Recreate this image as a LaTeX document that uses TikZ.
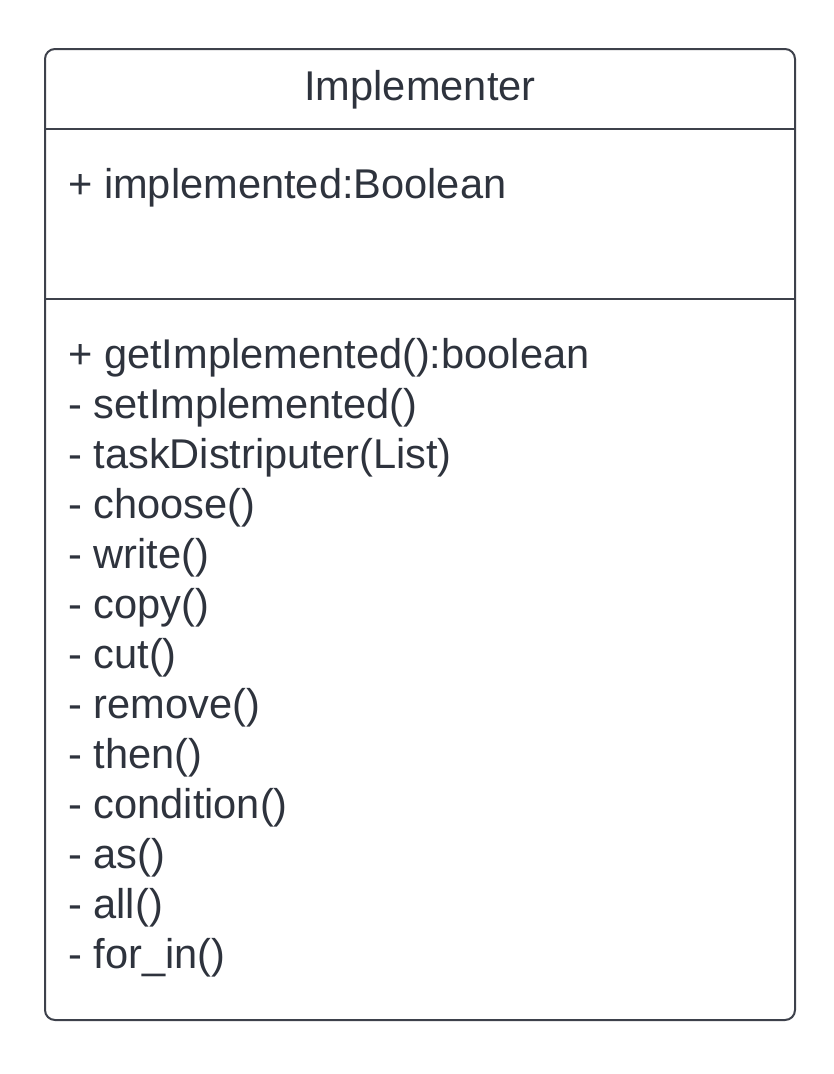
\documentclass[tikz,border=0pt]{standalone}
\usepackage{fontspec}
\setmainfont{Liberation Sans}
\definecolor{umlline}{HTML}{3D414B}
\definecolor{umltext}{HTML}{2E333D}
\begin{document}
\begin{tikzpicture}[x=1pt,y=-1pt,
  classbox/.style={draw=umlline,line width=2pt,rounded corners=10pt},
  divider/.style={draw=umlline,line width=1.6pt},
  member/.style={anchor=base west,inner sep=0pt,text=umltext,font=\fontsize{41.6}{41.6}\selectfont},
  title/.style={anchor=base,inner sep=0pt,text=umltext,font=\fontsize{41.6}{41.6}\selectfont}]
  \useasboundingbox (0,0) rectangle (833,1074);
  % class frame and compartments
  \draw[classbox] (45,49) rectangle (795,1020);
  \coordinate (d1l) at (45,129);
  \coordinate (d1r) at (795,129);
  \coordinate (d2l) at (45,299);
  \coordinate (d2r) at (795,299);
  \draw[divider] (d1l) -- (d1r);
  \draw[divider] (d2l) -- (d2r);
  % class name
  \node[title] (name) at (420,100) {Implementer};
  % attributes
  \node[member] (attr) at (68,198) {+ implemented:Boolean};
  % operations, one line every 50pt
  \foreach \txt [count=\i] in {%
      + getImplemented():boolean,
      - setImplemented(),
      - taskDistriputer(List),
      - choose(),
      - write(),
      - copy(),
      - cut(),
      - remove(),
      - then(),
      - condition(),
      - as(),
      - all(),
      - for\_in()}
    \node[member] (op\i) at (68,{318+50*\i}) {\txt};
\end{tikzpicture}
\end{document}
